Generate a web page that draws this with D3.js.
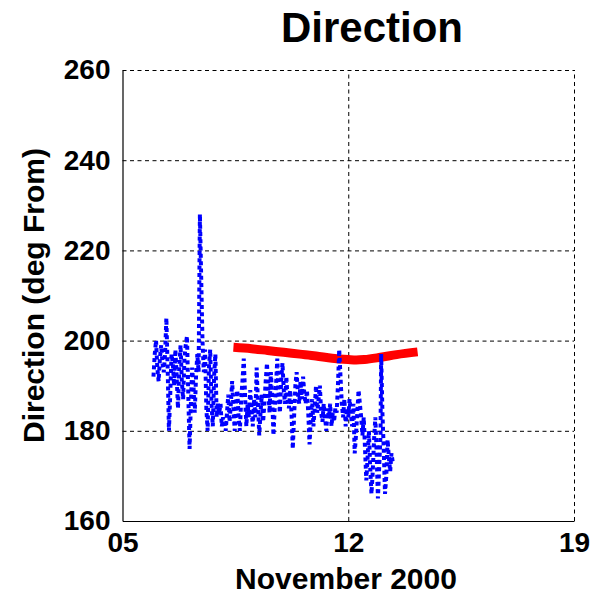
<!DOCTYPE html>
<html>
<head>
<meta charset="utf-8">
<script src="https://cdn.jsdelivr.net/npm/d3@7"></script>
<style>
  body { margin: 0; background: #fff; }
  svg { display: block; font-family: Arial, "Liberation Sans", sans-serif; font-weight: bold; }
  .grid line { stroke: #000; stroke-width: 1; stroke-dasharray: 4 3.5; }
  .grid .domain { display: none; }
  .axis .domain { stroke: #000; stroke-width: 1.2; }
  .axis line { display: none; }
  .axis text { font-size: 28px; fill: #000; }
</style>
</head>
<body>
<div class="artboard"></div>
<script>
// days of November 2000
var xTicks = [5, 12, 19];
var yTicks = [160, 180, 200, 220, 240, 260];

// measured direction (deg from), [day, value]
var measured = [
  [5.96,192],[6.00,197],[6.04,200],[6.08,194],[6.12,191],[6.16,196],[6.20,199],[6.24,195],[6.28,193],[6.32,197],
  [6.36,205],[6.40,194],[6.44,180],[6.48,188],[6.52,197],[6.56,195],[6.60,190],[6.64,198],[6.68,192],[6.72,185],
  [6.76,194],[6.80,199],[6.84,191],[6.88,187],[6.92,196],[6.96,199],[7.00,201],[7.04,188],[7.08,176],[7.12,186],
  [7.16,194],[7.20,190],[7.24,184],[7.28,192],[7.32,197],[7.36,193],[7.40,228],[7.44,214],[7.48,200],[7.52,193],
  [7.56,198],[7.60,185],[7.64,180],[7.68,194],[7.72,198],[7.76,186],[7.80,181],[7.84,192],[7.88,197],[7.92,183],
  [7.96,186],[8.00,184],[8.04,186],[8.08,181],[8.12,183],[8.16,182],[8.20,180],[8.24,184],[8.28,188],[8.32,182],
  [8.36,186],[8.40,191],[8.44,185],[8.48,180],[8.52,186],[8.56,189],[8.60,183],[8.64,180],[8.68,187],[8.72,191],
  [8.76,196],[8.80,188],[8.84,181],[8.88,186],[8.92,183],[8.96,189],[9.00,185],[9.04,181],[9.08,187],[9.12,183],
  [9.16,194],[9.20,186],[9.24,179],[9.28,184],[9.32,188],[9.36,182],[9.40,186],[9.44,191],[9.48,195],[9.52,189],
  [9.56,184],[9.60,193],[9.64,188],[9.68,179],[9.72,185],[9.76,190],[9.80,196],[9.84,188],[9.88,184],[9.92,191],
  [9.96,195],[10.00,189],[10.04,186],[10.08,192],[10.12,187],[10.16,185],[10.20,189],[10.24,184],[10.28,176],[10.32,183],
  [10.36,190],[10.40,193],[10.44,188],[10.48,186],[10.52,191],[10.56,187],[10.60,192],[10.64,188],[10.68,186],[10.72,189],
  [10.76,184],[10.80,177],[10.84,183],[10.88,187],[10.92,181],[10.96,185],[11.00,190],[11.04,184],[11.08,187],[11.12,190],
  [11.16,184],[11.20,182],[11.24,186],[11.28,183],[11.32,180],[11.36,185],[11.40,183],[11.44,186],[11.48,181],[11.52,184],
  [11.56,182],[11.60,185],[11.64,184],[11.68,190],[11.72,198],[11.76,192],[11.80,186],[11.84,183],[11.88,187],[11.92,181],
  [11.96,185],[12.00,183],[12.04,187],[12.08,184],[12.12,181],[12.16,186],[12.20,175],[12.24,179],[12.28,184],[12.32,189],
  [12.36,186],[12.40,183],[12.44,179],[12.48,183],[12.52,176],[12.56,169],[12.60,174],[12.64,180],[12.68,172],[12.72,166],
  [12.76,171],[12.80,178],[12.84,183],[12.88,175],[12.92,165],[12.96,172],[13.00,179],[13.02,197],[13.06,184],[13.10,176],
  [13.14,166],[13.18,170],[13.22,178],[13.26,174],[13.30,171],[13.34,175],[13.38,173]
];

// smoothed / model direction, [day, value]
var trend = [
  [8.44,198.5],[9.0,198.2],[9.5,197.8],[10.0,197.4],[10.5,197.0],[11.0,196.6],[11.5,196.1],
  [12.0,195.8],[12.25,195.7],[12.5,195.8],[13.0,196.3],[13.5,196.9],[14.15,197.5]
];

var drawChart = function(opts) {
  var W = 605, H = 596;
  var margin = { top: 70, right: 31, bottom: 75, left: 122.5 };
  var width = W - margin.left - margin.right;
  var height = H - margin.top - margin.bottom;

  var x = d3.scaleLinear().domain([5, 19]).range([0, width]);
  var y = d3.scaleLinear().domain([160, 260]).range([height, 0]);

  var line = d3.line()
    .x(function(d) { return x(d[0]); })
    .y(function(d) { return y(d[1]); });

  var svg = d3.select(opts.artboard).append('svg')
    .attr('width', W)
    .attr('height', H);

  var g = svg.append('g')
    .attr('transform', 'translate(' + margin.left + ',' + margin.top + ')');

  // grid
  g.append('g')
    .attr('class', 'grid')
    .call(d3.axisLeft(y).tickValues(yTicks.slice(1)).tickSize(-width).tickFormat(''));
  g.append('g')
    .attr('class', 'grid')
    .attr('transform', 'translate(0,' + height + ')')
    .call(d3.axisBottom(x).tickValues(xTicks.slice(1)).tickSize(-height).tickFormat(''));

  // data
  g.append('path')
    .datum(trend)
    .attr('fill', 'none')
    .attr('stroke', '#ff0000')
    .attr('stroke-width', 9)
    .attr('d', line.curve(d3.curveMonotoneX));

  g.append('path')
    .datum(measured)
    .attr('fill', 'none')
    .attr('stroke', '#0000ff')
    .attr('stroke-width', 4)
    .attr('stroke-dasharray', '4 3.3')
    .attr('d', line.curve(d3.curveLinear));

  // axes
  g.append('g')
    .attr('class', 'axis')
    .call(d3.axisLeft(y).tickValues(yTicks).tickSize(0).tickPadding(12));
  g.append('g')
    .attr('class', 'axis')
    .attr('transform', 'translate(0,' + height + ')')
    .call(d3.axisBottom(x).tickValues(xTicks).tickSize(0).tickPadding(11)
      .tickFormat(d3.format('02d')));

  // titles
  svg.append('text')
    .attr('x', 372)
    .attr('y', 42)
    .attr('text-anchor', 'middle')
    .attr('font-size', 42)
    .text('Direction');

  svg.append('text')
    .attr('x', 346)
    .attr('y', 589)
    .attr('text-anchor', 'middle')
    .attr('font-size', 30)
    .text('November 2000');

  svg.append('text')
    .attr('transform', 'translate(44,' + (margin.top + height / 2) + ') rotate(-90)')
    .attr('text-anchor', 'middle')
    .attr('font-size', 30)
    .text('Direction (deg From)');
};

drawChart({ artboard: document.querySelector('.artboard') });
</script>
</body>
</html>
